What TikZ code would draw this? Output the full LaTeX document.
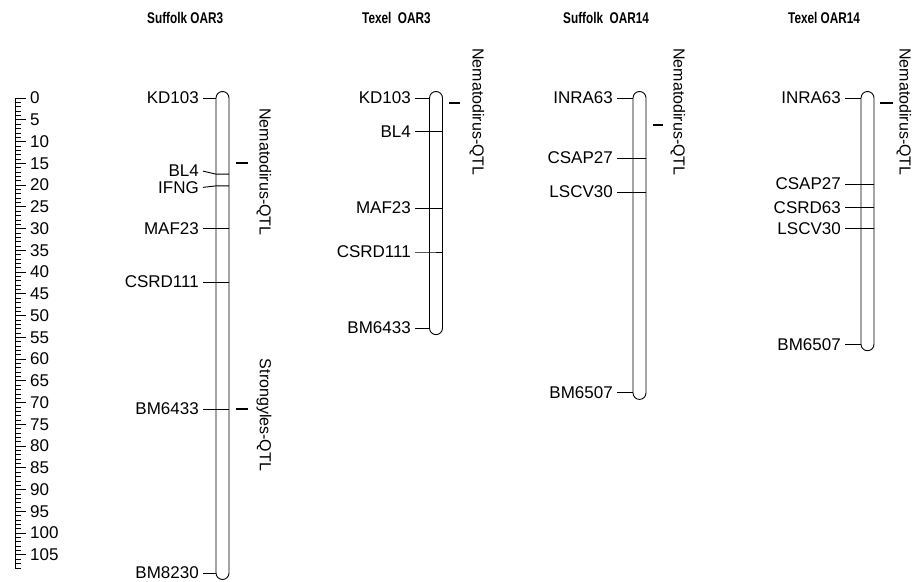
\documentclass[tikz,border=0pt]{standalone}
\usepackage{fontspec}
\setmainfont{Liberation Sans}
\newfontfamily\ttlfont[FakeStretch=0.76]{Liberation Sans Bold}
\begin{document}
\begin{tikzpicture}[x=1pt,y=-1pt,
  lbl/.style={font=\fontsize{17}{17}\selectfont, inner sep=0pt},
  ttl/.style={font=\ttlfont\fontsize{15.5}{15.5}\selectfont, inner sep=0pt, anchor=west},
  chrom/.style={draw, line width=0.9pt, rounded corners=6.5pt},
  mk/.style={line width=0.9pt},
  qdash/.style={line width=1.2pt},
  qtl/.style={font=\fontsize{16}{16}\selectfont, inner sep=0pt, rotate=-90}]
\useasboundingbox (0,0) rectangle (912,581);
\def\sc{4.35}
\def\yz{98}
% titles
\node[ttl] (t1) at (147,18) {Suffolk OAR3};
\node[ttl] (t2) at (362,18) {Texel\ \ OAR3};
\node[ttl] (t3) at (563,18) {Suffolk\ \ OAR14};
\node[ttl] (t4) at (788,18) {Texel OAR14};
% scale
\coordinate (s0) at (15,\yz);
\coordinate (s1) at (15,{\yz+\sc*108});
\draw[mk] (s0) -- (s1);
\foreach \i in {0,...,108}{
  \draw[line width=0.6pt] (15,{\yz+\sc*\i}) -- (21,{\yz+\sc*\i});
}
\foreach \i in {0,5,...,105}{
  \draw[mk] (15,{\yz+\sc*\i}) -- (26,{\yz+\sc*\i});
  \node[lbl, anchor=west] (sl\i) at (30,{\yz+\sc*\i}) {\i};
}
% chromosome 1: Suffolk OAR3
\draw[chrom] (216,{\yz-6.5}) rectangle (229,{\yz+\sc*109.2+6.5});
\foreach \n/\v/\ly/\xe in {KD103/0/0/216, BL4/17.5/-3/229, IFNG/20.2/1.5/229, MAF23/30/0/229, CSRD111/42.3/0/229, BM6433/71.5/0/229, BM8230/109.2/0/216}{
  \node[lbl, anchor=east] (a\n) at (199,{\yz+\sc*\v+\ly}) {\n};
  \draw[mk] ([xshift=4pt]a\n.east) -- (216,{\yz+\sc*\v}) -- (\xe,{\yz+\sc*\v});
}
\draw[qdash] (236,163) -- (248,163);
\node[qtl] (q1) at (264,172) {Nematodirus-QTL};
\draw[qdash] (236,409) -- (248,409);
\node[qtl] (q2) at (264,415) {Strongyles-QTL};
% chromosome 2: Texel OAR3
\draw[chrom] (429.5,{\yz-6.5}) rectangle (442.5,{\yz+\sc*52.9+6.5});
\foreach \n/\v/\xe in {KD103/0/429.5, BL4/7.8/442.5, MAF23/25.3/442.5, CSRD111/35.4/442.5, BM6433/52.9/429.5}{
  \node[lbl, anchor=east] (b\n) at (411,{\yz+\sc*\v}) {\n};
  \draw[mk] ([xshift=4pt]b\n.east) -- (429.5,{\yz+\sc*\v}) -- (\xe,{\yz+\sc*\v});
}
\draw[qdash] (449,103) -- (460,103);
\node[qtl] (q3) at (477,112) {Nematodirus-QTL};
% chromosome 3: Suffolk OAR14
\draw[chrom] (633,{\yz-6.5}) rectangle (646,{\yz+\sc*67.8+6.5});
\foreach \n/\v/\xe in {INRA63/0/633, CSAP27/13.8/646, LSCV30/21.6/646, BM6507/67.8/633}{
  \node[lbl, anchor=east] (c\n) at (613,{\yz+\sc*\v}) {\n};
  \draw[mk] ([xshift=4pt]c\n.east) -- (633,{\yz+\sc*\v}) -- (\xe,{\yz+\sc*\v});
}
\draw[qdash] (653,125) -- (663,125);
\node[qtl] (q4) at (678,112) {Nematodirus-QTL};
% chromosome 4: Texel OAR14
\draw[chrom] (861,{\yz-6.5}) rectangle (874,{\yz+\sc*56.6+6.5});
\foreach \n/\v/\xe in {INRA63/0/861, CSAP27/19.8/874, CSRD63/25.1/874, LSCV30/30.1/874, BM6507/56.6/861}{
  \node[lbl, anchor=east] (d\n) at (841,{\yz+\sc*\v}) {\n};
  \draw[mk] ([xshift=4pt]d\n.east) -- (861,{\yz+\sc*\v}) -- (\xe,{\yz+\sc*\v});
}
\draw[qdash] (880,103) -- (893,103);
\node[qtl] (q5) at (904,112) {Nematodirus-QTL};
\end{tikzpicture}
\end{document}
